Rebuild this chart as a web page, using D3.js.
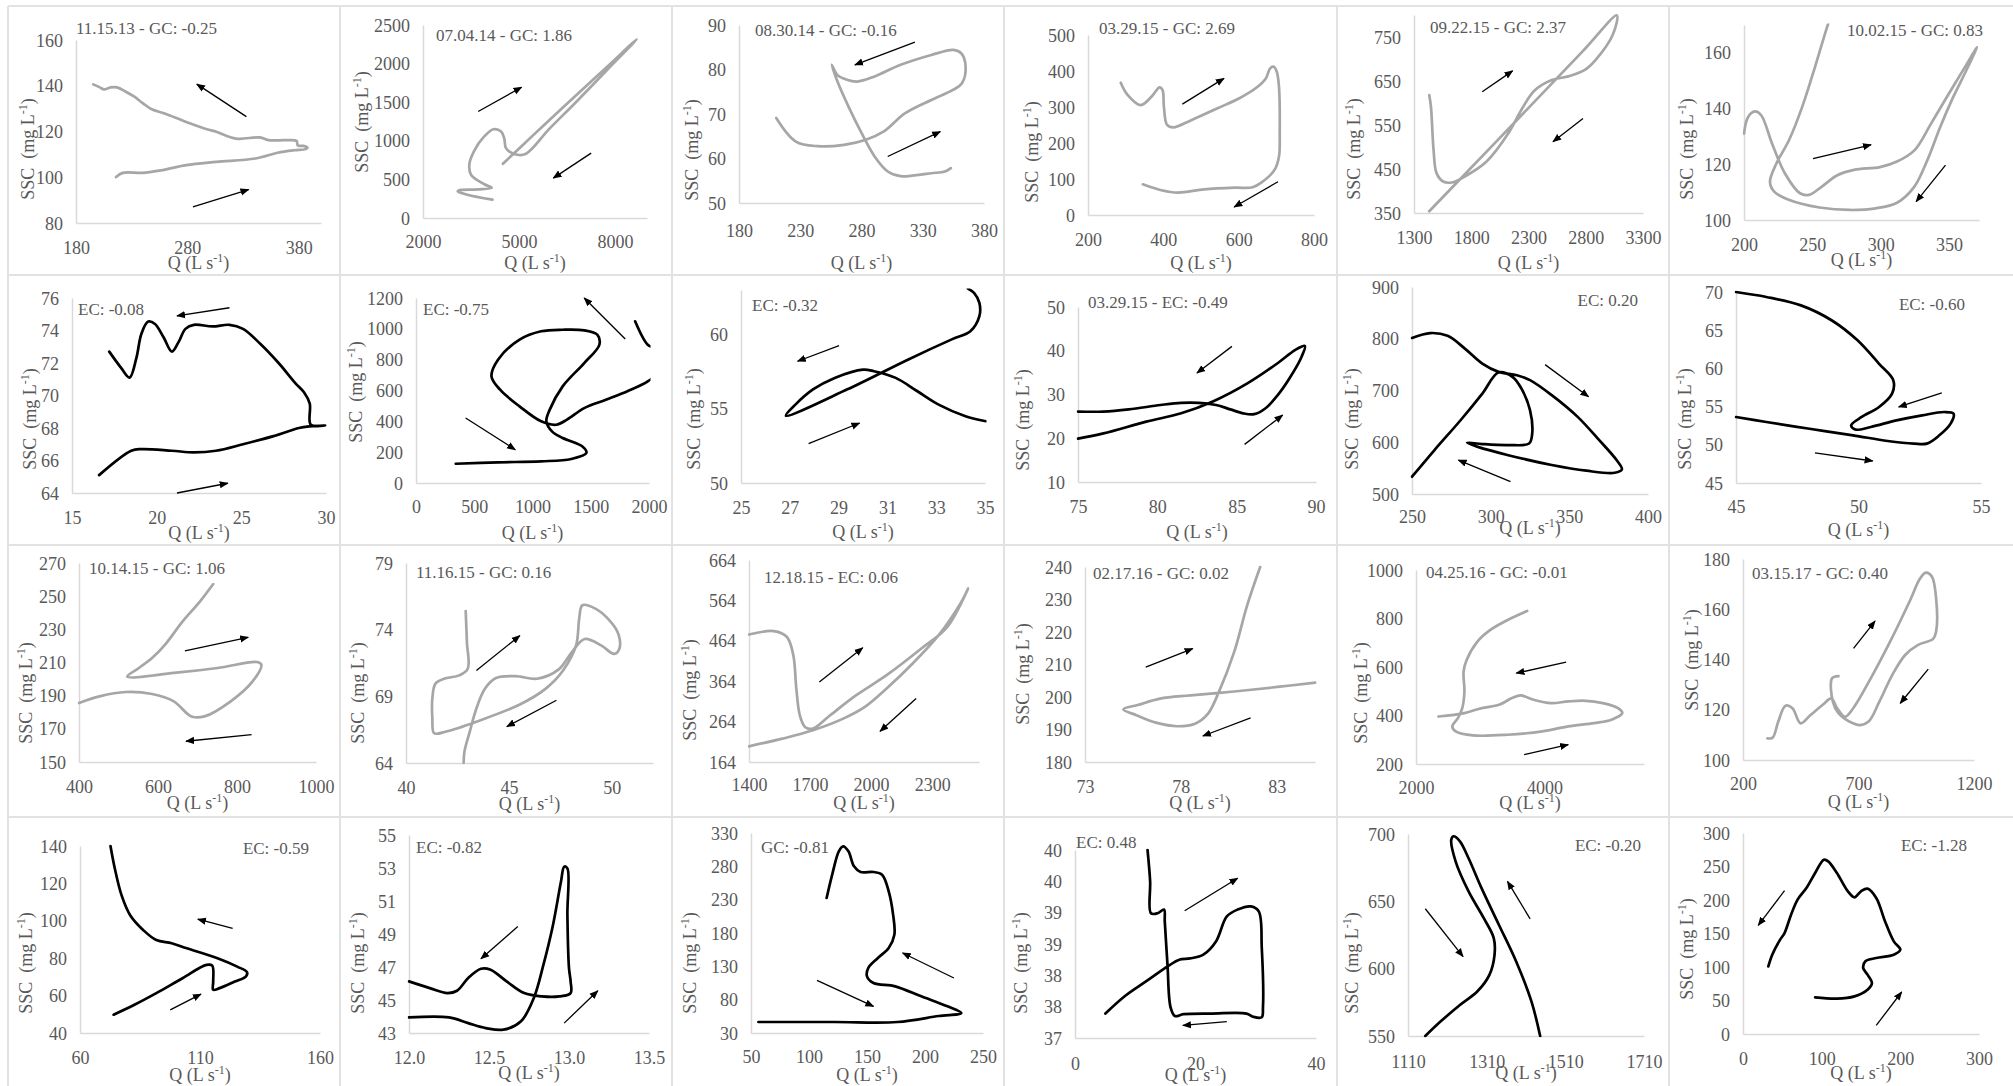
<!DOCTYPE html>
<html><head><meta charset="utf-8">
<script src="https://cdn.jsdelivr.net/npm/d3@7"></script>
<style>
body{margin:0;background:#fff;}
svg{display:block;}
</style></head><body>
<svg id="c" width="2013" height="1086"></svg>
<script>
// ---------------- DATA ----------------
const titles = ["11.15.13 - GC: -0.25","07.04.14 - GC: 1.86","08.30.14 - GC: -0.16","03.29.15 - GC: 2.69","09.22.15 - GC: 2.37","10.02.15 - GC: 0.83",
"EC: -0.08","EC: -0.75","EC: -0.32","03.29.15 - EC: -0.49","EC: 0.20","EC: -0.60",
"10.14.15 - GC: 1.06","11.16.15 - GC: 0.16","12.18.15 - EC: 0.06","02.17.16 - GC: 0.02","04.25.16 - GC: -0.01","03.15.17 - GC: 0.40",
"EC: -0.59","EC: -0.82","GC: -0.81","EC: 0.48","EC: -0.20","EC: -1.28"];

const xDomains = [[180,400],[2000,9000],[180,380],[200,800],[1300,3300],[200,372],[15,30],[0,2000],[25,35],[75,90],[250,400],[45,55],[400,1000],[40,52],[1400,2530],[73,85],[2000,5550],[200,1200],[60,160],[12,13.5],[50,250],[0,40],[1110,1710],[0,300]];
const yDomains = [[80,160],[0,2500],[50,90],[0,500],[350,800],[100,170],[64,76],[0,1200],[50,63],[10,50],[500,900],[45,70],[150,270],[64,79],[164,664],[180,240],[200,1000],[100,180],[40,140],[43,55],[30,330],[37,40],[550,700],[0,300]];

const xTicks = [[180,280,380],[2000,5000,8000],[180,230,280,330,380],[200,400,600,800],[1300,1800,2300,2800,3300],[200,250,300,350],
[15,20,25,30],[0,500,1000,1500,2000],[25,27,29,31,33,35],[75,80,85,90],[250,300,350,400],[45,50,55],
[400,600,800,1000],[40,45,50],[1400,1700,2000,2300],[73,78,83],[2000,4000],[200,700,1200],
[60,110,160],[12,12.5,13,13.5],[50,100,150,200,250],[0,20,40],[1110,1310,1510,1710],[0,100,200,300]];
const yTicks = [[80,100,120,140,160],[0,500,1000,1500,2000,2500],[50,60,70,80,90],[0,100,200,300,400,500],[350,450,550,650,750],[100,120,140,160],
[64,66,68,70,72,74,76],[0,200,400,600,800,1000,1200],[50,55,60],[10,20,30,40,50],[500,600,700,800,900],[45,50,55,60,65,70],
[150,170,190,210,230,250,270],[64,69,74,79],[164,264,364,464,564,664],[180,190,200,210,220,230,240],[200,400,600,800,1000],[100,120,140,160,180],
[40,60,80,100,120,140],[43,45,47,49,51,53,55],[30,80,130,180,230,280,330],[37,37.5,38,38.5,39,39.5,40],[550,600,650,700],[0,50,100,150,200,250,300]];
const xDecimals = [0,0,0,0,0,0, 0,0,0,0,0,0, 0,0,0,0,0,0, 0,1,0,0,0,0];
const yDecimals = [0,0,0,0,0,0, 0,0,0,0,0,0, 0,0,0,0,0,0, 0,0,0,0,0,0];

const q01 = [216,222,240,256,279,306,341,361,376,386.2,387.8,383.9,379.2,378,368.3,352.8,345,323.7,306,298.4,279,259.6,248,240.2,232.4,224.7,216.9,211,205.2,201.4,195.5];
const ssc01 = [100.1,101.9,101.9,103,105.3,106.7,108.2,110.7,111.8,112.3,113,113.7,113.9,115.9,116.2,116.2,117.4,116.9,119.9,120.9,124.2,127.9,129.7,132.3,135.2,137.4,139.3,139.3,138.4,139.3,140.6];
const q02 = [4498,5421,6371,7729,8679,7729,6778,5939,5217,4946,4600,4540,4440,4200,3900,3600,3450,3500,3900,4150,3700,3113,3086,3385,4172];
const ssc02 = [703,1064,1430,1950,2314,1908,1500,1151,832,819,900,1030,1120,1150,1050,870,700,560,440,390,370,358,345,302,237];
const q03 = [210.4,226.4,244.3,265.7,283.6,297.9,315.7,337,355,362,365,361.4,355,337,312,290.7,276.4,267.5,260.4,255.7,260.4,269.3,280,290.7,301.4,312,323,337,348,353];
const ssc03 = [69.1,63.8,62.76,63.05,64.2,66.03,70.17,73.15,75.46,76.91,80.66,83.65,84.42,83.26,81.05,78.45,77.29,77.77,78.74,81.05,77.29,71.71,65.74,60.45,57.08,56.02,56.21,56.69,57.08,57.85];
const q04 = [287,305,340,369,390,398,401.5,410,427,474,544,602,648.5,672,683.5,693,701,707,709,707,695,660,637,590,508.7,439,392,345.6];
const ssc04 = [367.6,333.8,305.3,329,354.7,347,301,250.2,243.5,263.5,296.7,324.3,354.7,379.4,407.4,411.7,398.4,356.6,226.9,161.8,124.8,89.8,76.9,75.9,71.3,62.1,69.5,85.2];
const q05 = [1433,1448,1471,1497,1554,1630,1744,1934,2124,2237,2351,2503,2655,2788,2883,3034,3072,2800,2503,2124,1744,1433];
const ssc05 = [618,591.5,493,440.6,421.7,419.4,433,467,531,584,627.7,652,661,674.5,697,753.8,799,725,644,541,438,354];
const q06 = [200,203,208,212.6,220.5,230,241,247.4,257,268,280.5,299.5,312,324.7,337,350,362.6,370.5,364,353,343.7,334.2,324.7,312,296.3,277.4,255.3,233.2,222.1,219,223.7,233,242.6,252,260,264];
const ssc06 = [131,137,139,137.6,127.5,116.7,109.6,109,112,116,118,119,121,125,134.7,145.4,155.6,162,155,144,133.5,121.5,112,106.2,104.2,103.6,104.5,107.2,110.2,113.7,120.3,128.7,140.6,155,168,174];
const q07 = [16.6,18.5,19.1,20.9,22.2,23.5,25.1,26.9,28.4,29.0,29.95,29.1,29.04,28.7,28.2,27.2,26.1,25.1,24.3,23.3,22.2,21.7,21.3,20.9,20.4,19.9,19.5,19.1,18.8,18.4,17.9,17.2];
const ssc07 = [65.1,66.6,66.7,66.6,66.5,66.6,67,67.5,68,68.1,68.15,68.2,69.5,70.2,70.75,72,73.2,74.1,74.35,74.25,74.35,74.1,73.3,72.7,73.6,74.4,74.55,73.8,72.3,71.1,71.7,72.7];
const q08 = [341,704,1074,1333,1463,1426,1259,1167,1119,1148,1259,1444,1574,1556,1444,1259,1074,889,704,648,722,889,1074,1204,1296,1444,1630,1815,1989,2080,2110,2060,1989,1881];
const ssc08 = [125,134,140.5,156,195,238,292,335,400,476,627,778,897,962,990,994,984,930,800,692,605,497,400,378,411,486,540,595,659,720,800,870,897,1049];
const q09 = [35.04,34.2,33.1,32.23,31.34,30.45,30.0,28.84,27.95,27.23,26.84,29.36,31.88,33.66,34.4,34.77,34.77,34.55,34.3];
const ssc09 = [54.16,54.5,55.28,56.18,57.08,57.53,57.64,57.08,56.3,55.28,54.54,56.31,58.34,59.69,60.22,61.24,62.13,62.8,63.1];
const q10 = [75,76.6,79.3,81.5,83.5,85.7,87.6,88.7,89.3,89.1,88.4,87.6,86.8,86.1,85.4,84.6,83.7,82.6,81.5,80.2,78.2,76.6,75];
const ssc10 = [19.9,21.1,23.8,25.7,28.4,32.6,37.2,40.2,41.1,38.7,34.1,29.9,26.8,25.5,25.7,26.6,27.6,28.1,28.1,27.6,26.6,26.1,26.1];
const q11 = [250,261.6,272.6,283.6,294.7,305,316.7,325,338.8,355.3,369,380,383.4,378.8,360.8,338.8,311.2,291.9,285,294.7,311.2,324.4,326.4,325,319.5,314,305,294.7,281,264.3,250];
const ssc11 = [801.6,811,805.6,781,752,736,729.6,720,691,649,604,565.6,547.6,541,545,556,575,591,599,596.5,594.5,597.7,617,662,704,726,734.7,694,643,585,533.4];
const q12 = [45,46.24,47.65,48.9,49.96,50.84,51.42,51.37,50.84,50.13,49.7,49.87,50.5,51.55,52.6,53.5,53.88,53.76,53.3,52.79,52.26,51.19,49.78,48,46.24,45];
const ssc12 = [70,69.35,68.25,66.3,63.67,60.6,58.44,56.7,54.95,53.64,52.55,52,52.33,53.2,53.86,54.29,54.07,52.77,51.24,50.15,50.15,50.5,51.24,52.1,52.98,53.64];
const q13 = [400,452,518.5,585,640,684.5,717.7,784,839.5,861.6,850.5,751,640,522,551.7,584.9,618,662.4,706.6,739.8];
const ssc13 = [185.6,189.6,192.2,191,186.6,177.5,177.5,186.6,198.6,208.7,210.3,206.7,203.7,201.5,206.7,212.7,220.8,234.8,246.9,257.3];
const q14 = [42.9,42.96,43.0,42.58,41.85,41.43,41.28,41.28,41.37,41.95,43.42,45.53,46.79,47.63,48.26,48.42,48.57,49.2,49.83,50.32,50.36,50.11,49.5,48.68,48.05,47.42,46.37,45.32,44.37,43.84,43.42,43.1,42.84,42.8];
const ssc14 = [75.4,73.05,71.07,70.57,70.32,69.95,68.84,67.35,66.23,66.36,67.1,68.39,69.58,70.94,72.8,74.9,75.83,75.58,74.79,73.67,72.55,72.18,72.8,73.3,72.3,71.02,70.32,70.52,70.37,69.58,68.09,66.36,64.87,64];
const q15 = [1400,1521.6,1585.6,1617.6,1632.5,1649.6,1675,1713.6,1798.9,1926.9,2076,2246.8,2374.8,2477,2438.8,2332,2204,2076,1969.5,1862.9,1713.6,1564,1400];
const ssc15 = [479.7,488,474,428.5,345.8,279.7,250.8,246.6,279.7,329.3,378.9,445,498.7,593.7,556.5,478,407.8,345.8,300.4,271.4,242.5,221.8,202.8];
const q16 = [85.02,83.05,80.78,78.51,76.92,75.79,75.0,75.68,76.7,77.83,78.74,79.42,79.98,80.78,81.46,82.14];
const ssc16 = [204.4,203.1,201.7,200.5,199.5,197.6,196.2,194.4,192.1,191,191.8,194.9,201.5,213.8,228.2,240];
const q17 = [3730.6,3427.6,3158,2956,2788,2740.7,2754,2720.5,2653,2565.6,2619,2889,3427.6,3966,4370,4774,5044,5212,5145,4909,4640,4370,4101,3832,3630,3495,3293,3024,2754,2350];
const ssc17 = [831,794,753,705,629,581,499,430.5,389,355,334.5,318,320.7,334.5,355,368.8,382.5,410,430.5,451,460.7,458,451,464.8,482.6,471.7,444,430.5,410,396];
const q18 = [306,328.5,352.7,384,414,449.5,492.3,548,581.7,607.8,641.3,678.5,753,836.8,920.6,967,991.4,1017.5,1036,1036,1023,958,902,846,790.3,743.7,706.5,660,613.4,589,585.4,613.4];
const ssc18 = [108.6,108.9,115.3,121.6,120.6,114.6,117.9,122.2,124.5,120.6,117.2,120.8,132.5,147.1,163,172.3,174.6,173,164.3,151.1,148.2,145.8,141.8,133.8,123.2,115.3,113.9,115.3,118.6,123.2,132.5,133.4];
const q19 = [72.7,74.5,77.3,80.9,86.4,91.8,98.2,104.5,117.3,125.5,129.6,129.1,124.5,118.2,115.5,115.5,115.1,112.7,102.7,91.8,82.7,74];
const ssc19 = [140,128,113.7,103,95,89.7,88,85.3,80,75.5,72.5,70.2,67.5,64,63.1,67.5,76,76.4,69.3,61.3,55.1,49.8];
const q20 = [12,12.13,12.24,12.3,12.37,12.45,12.51,12.61,12.72,12.83,12.94,13.01,13.01,13.0,12.99,12.99,12.97,12.95,12.9,12.84,12.78,12.7,12.59,12.48,12.37,12.25,12.0];
const ssc20 = [46.13,45.72,45.42,45.56,46.33,46.89,46.83,46.13,45.42,45.22,45.22,45.42,46.13,46.93,50.16,52.98,53.08,52.18,49.55,47.13,45.12,43.71,43.2,43.3,43.6,43.95,43.95];
const q21 = [115.2,120,125.7,129.4,134,138.8,144.4,155.6,163,168.7,172.5,173.6,168.7,159.4,151.1,150,155.6,174.3,196.8,219.3,231.3,211.8,176.2,121.9,56.4];
const ssc21 = [232.5,267.5,302.5,310,302.5,280,271.5,271.5,267.5,242.5,207.5,177.5,157.5,142.5,127.5,115,105,100,85,70,60,55.5,46.5,46.5,46.5];
const q22 = [12.04,12.47,12.61,13.7,14.77,14.9,15.35,15.86,16.58,18.02,22.7,28.47,29.55,30.99,31.2,31,30.5,29.2,27,25.2,23.4,21.3,19.1,17.3,15.5,11.9,8.3,5.05];
const ssc22 = [40,39.5,38.99,38.99,39.05,38.86,38.17,37.49,37.35,37.38,37.39,37.39,37.34,37.33,37.49,38.44,39.02,39.1,39.05,38.94,38.54,38.33,38.27,38.25,38.15,37.91,37.67,37.39];
const q23 = [1154,1192.6,1242,1286,1317,1330,1328,1302.7,1264,1231,1220,1225.6,1242,1264,1297,1341,1385,1424,1446];
const ssc23 = [550,560.7,573,583,595.4,610.3,622.7,637.5,657.4,679.7,695.8,698.3,694.6,682,659.8,632.6,605.3,575.5,550];
const q24 = [32.2,37.2,47.2,52.8,61.1,69.4,80.6,91.7,102.8,108.3,119.4,133.3,141.7,150,158.3,169.4,180.6,191.7,200,191.7,169.4,155.6,152.8,158.3,163.9,158.3,141.7,119.4,91.7];
const ssc24 = [101,118.4,140.8,150.7,178,200.5,218,240.3,260.2,257.7,240.3,213,204,213,217,203,168,138.3,125.9,118.4,113.4,108.5,98.5,88.6,76,66.2,56.2,52.7,54.7];

// arrows [Qstart, SSCstart, Qend, SSCend]
const arrows01 = [[333,126.5,288.5,140.7],[285,87,335,94.6]];
const arrows02 = [[3724,1379,5081,1694],[7254,840,6073,517]];
const arrows03 = [[323.6,86.15,274.6,81.05],[301.4,60.45,344.3,66.03]];
const arrows04 = [[450.5,308.1,561,379.4],[704.5,92.5,588,22.2]];
const arrows05 = [[1896,625.5,2161,673],[2776,565,2514,512]];
const arrows06 = [[250.5,122,293,127],[347.5,119.7,326,106.6]];
const arrows07 = [[24.3,75.4,21.2,74.9],[21.2,64,24.2,64.6]];
const arrows08 = [[1796,934,1444,1200],[426,422,852,216]];
const arrows09 = [[29.02,59.26,27.32,58.2],[27.77,52.65,29.86,54.04]];
const arrows10 = [[84.7,41,82.5,34.9],[85.5,18.6,87.9,25.3]];
const arrows11 = [[334.6,750,362.2,688],[312.6,524,279.5,565.6]];
const arrows12 = [[53.4,56.8,51.64,54.95],[48.22,48.93,50.58,47.88]];
const arrows13 = [[668,217,828.4,225.2],[837,166.5,671,162.5]];
const arrows14 = [[43.42,70.94,45.53,73.55],[47.31,68.71,44.9,66.73]];
const arrows15 = [[1745.5,362.3,1958.8,446.6],[2221,321,2044,240]];
const arrows16 = [[76.17,209.2,78.62,214.9],[81.64,193.6,79.15,188]];
const arrows17 = [[4337,620,3562,574.6],[3683.5,238.4,4370,279.6]];
const arrows18 = [[678.5,144.4,771.6,155.3],[1001.8,136.2,880.8,122.6]];
const arrows19 = [[123.6,96,109.1,100.9],[97.6,52.4,110.4,60.8]];
const arrows20 = [[12.68,49.45,12.45,47.5],[12.97,43.6,13.18,45.56]];
const arrows21 = [[106.9,109,155.6,70],[224.9,112.5,180.7,150]];
const arrows22 = [[18.2,39.03,27,39.55],[25.2,37.26,17.9,37.2]];
const arrows23 = [[1154,644.5,1250,609],[1420.5,637,1363,664.8]];
const arrows24 = [[52.8,214,19.4,162.2],[169.4,12.9,201.7,62.7]];

const qData = [q01,q02,q03,q04,q05,q06,q07,q08,q09,q10,q11,q12,q13,q14,q15,q16,q17,q18,q19,q20,q21,q22,q23,q24];
const sscData = [ssc01,ssc02,ssc03,ssc04,ssc05,ssc06,ssc07,ssc08,ssc09,ssc10,ssc11,ssc12,ssc13,ssc14,ssc15,ssc16,ssc17,ssc18,ssc19,ssc20,ssc21,ssc22,ssc23,ssc24];
const arrowData = [arrows01,arrows02,arrows03,arrows04,arrows05,arrows06,arrows07,arrows08,arrows09,arrows10,arrows11,arrows12,arrows13,arrows14,arrows15,arrows16,arrows17,arrows18,arrows19,arrows20,arrows21,arrows22,arrows23,arrows24];

// ---------------- LAYOUT & STYLE ----------------
const plotBoxes = [
[76,40,321,223],[423,25,647,218],[739,25,984,203],[1088,35,1314,215],[1414,15,1643,213],[1744,25,1979,220],
[72,298,326,493],[416,298,649,483],[741,290,985,483],[1078,307,1316,482],[1412,287,1648,494],[1736,292,1981,483],
[79,563,316,762],[406,563,653,763],[749,560,979,762],[1085,567,1315,762],[1416,570,1644,764],[1743,559,1974,760],
[80,846,320,1033],[409,835,649,1033],[751,833,983,1033],[1075,850,1316,1038],[1408,834,1644,1036],[1743,833,1979,1034]];
const titlePos = [
[76,28,"start"],[436,35,"start"],[755,30,"start"],[1099,28,"start"],[1430,27,"start"],[1983,30,"end"],
[78,309,"start"],[423,309,"start"],[752,305,"start"],[1088,302,"start"],[1638,300,"end"],[1965,304,"end"],
[89,568,"start"],[416,572,"start"],[764,577,"start"],[1093,573,"start"],[1426,572,"start"],[1752,573,"start"],
[309,848,"end"],[416,847,"start"],[761,847,"start"],[1076,842,"start"],[1641,845,"end"],[1967,845,"end"]];
const yTitlePos = [
[28,149],[362,122],[692,150],[1032,152],[1354,149],[1687,149],
[30,419],[356,392],[694,419],[1023,420],[1352,419],[1685,419],
[26,693],[358,693],[690,690],[1023,674],[1361,693],[1692,660],
[26,963],[358,963],[690,963],[1021,963],[1352,963],[1687,949]];
const xLabelY = [248,242,231,240,238,245, 518,507,508,507,517,507, 787,788,785,787,788,784, 1058,1058,1057,1064,1062,1059];
const xTitleY = [263,263,263,263,263,260, 533,533,532,532,528,530, 803,804,803,803,803,802, 1075,1073,1075,1075,1073,1073];
const lineColor = i => (Math.floor(i/6) % 2 === 0) ? "#a6a6a6" : "#000000";
const FONT = "'Liberation Serif','Times New Roman',serif";
const TXT = "#595959";

const svg = d3.select("#c");
const defs = svg.append("defs");
defs.append("marker").attr("id","ah").attr("viewBox","0 0 10 10").attr("refX",9).attr("refY",5)
  .attr("markerWidth",9).attr("markerHeight",9).attr("markerUnits","userSpaceOnUse").attr("orient","auto")
  .append("path").attr("d","M0,1 L10,5 L0,9 z").attr("fill","#000");

// table grid
const colLines = [8,340,672,1004,1337,1669];
const rowLines = [6,275,545,817];
svg.append("g").selectAll("line").data(colLines).join("line")
  .attr("x1",d=>d).attr("x2",d=>d).attr("y1",6).attr("y2",1086).attr("stroke","#e2e2e2").attr("stroke-width",2);
svg.append("g").selectAll("line").data(rowLines).join("line")
  .attr("x1",8).attr("x2",2013).attr("y1",d=>d).attr("y2",d=>d).attr("stroke","#e2e2e2").attr("stroke-width",2);

function unitText(t, main){
  t.append("tspan").text(main);
  t.append("tspan").attr("dy",-7).attr("font-size",12).text("-1");
  t.append("tspan").attr("dy",7).text(")");
}

for (let i=0;i<24;i++){
  const [L,T,R,B] = plotBoxes[i];
  const x = d3.scaleLinear().domain(xDomains[i]).range([L,R]);
  const y = d3.scaleLinear().domain(yDomains[i]).range([B,T]);
  const g = svg.append("g");

  const xa = g.append("g").attr("transform",`translate(0,${B})`)
    .call(d3.axisBottom(x).tickValues(xTicks[i]).tickSize(0).tickSizeOuter(0).tickFormat(d3.format(`.${xDecimals[i]}f`)));
  const ya = g.append("g").attr("transform",`translate(${L},0)`)
    .call(d3.axisLeft(y).tickValues(yTicks[i]).tickSize(0).tickSizeOuter(0).tickPadding(13).tickFormat(d3.format(`.${yDecimals[i]}f`)));
  [xa,ya].forEach(a=>{
    a.attr("font-family",FONT).attr("font-size",18);
    a.select(".domain").attr("stroke","#d9d9d9").attr("stroke-width",1.5);
    a.selectAll("text").attr("fill",TXT);
  });
  xa.selectAll("text").attr("y", xLabelY[i]-B).attr("dy","0.35em");
  ya.selectAll("text").attr("dy","0.34em");

  const cid = "clip"+i;
  defs.append("clipPath").attr("id",cid).append("rect")
    .attr("x",L-1.5).attr("y",T-1.5).attr("width",R-L+3).attr("height",B-T+3);

  const pts = d3.zip(qData[i], sscData[i]);
  const line = d3.line().x(d=>x(d[0])).y(d=>y(d[1])).curve(d3.curveCatmullRom.alpha(0.5));
  g.append("path").attr("clip-path",`url(#${cid})`).attr("d",line(pts))
    .attr("fill","none").attr("stroke",lineColor(i)).attr("stroke-width",2.7)
    .attr("stroke-linejoin","round").attr("stroke-linecap","round");

  g.selectAll("line.arr").data(arrowData[i]).join("line").attr("class","arr")
    .attr("x1",d=>x(d[0])).attr("y1",d=>y(d[1])).attr("x2",d=>x(d[2])).attr("y2",d=>y(d[3]))
    .attr("stroke","#000").attr("stroke-width",1.3).attr("marker-end","url(#ah)");

  const [tx,ty,ta] = titlePos[i];
  g.append("text").attr("x",tx).attr("y",ty).attr("dy","0.35em").attr("text-anchor",ta)
    .attr("font-family",FONT).attr("font-size",17).attr("fill",TXT).text(titles[i]);

  const xt = g.append("text").attr("x",(L+R)/2).attr("y",xTitleY[i]).attr("dy","0.35em")
    .attr("text-anchor","middle").attr("font-family",FONT).attr("font-size",18).attr("fill",TXT);
  unitText(xt, "Q (L s");
  const [cx,cy] = yTitlePos[i];
  const yt = g.append("text").attr("transform",`translate(${cx},${cy}) rotate(-90)`).attr("dy","0.35em")
    .attr("text-anchor","middle").attr("font-family",FONT).attr("font-size",18).attr("fill",TXT)
    .style("white-space","pre");
  unitText(yt, "SSC  (mg L");
}
</script></body></html>
